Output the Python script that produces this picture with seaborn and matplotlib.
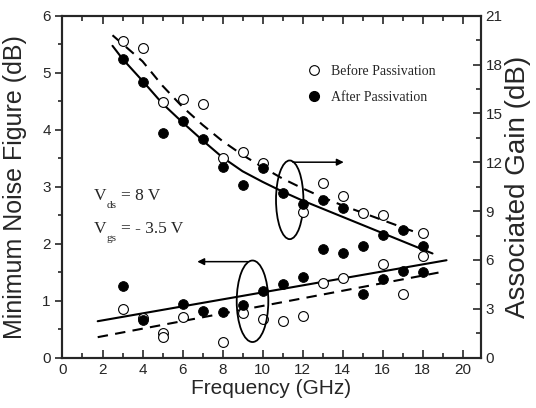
import numpy as np
import pandas as pd
import seaborn as sns
import matplotlib.pyplot as plt
from matplotlib.lines import Line2D
from matplotlib.patches import Ellipse
from matplotlib.ticker import MultipleLocator

# noise figure data (left axis)
freq_nf_before = [3, 4, 5, 5, 6, 8, 9, 10, 11, 12, 13, 14, 16, 17, 18]
nf_before = [0.85, 0.69, 0.43, 0.36, 0.71, 0.27, 0.79, 0.68, 0.65, 0.74,
             1.31, 1.39, 1.64, 1.12, 1.79]
freq_nf_after = [3, 4, 6, 7, 8, 9, 10, 11, 12, 13, 14, 15, 16, 17, 18]
nf_after = [1.25, 0.67, 0.94, 0.82, 0.81, 0.92, 1.17, 1.29, 1.42, 1.90,
            1.83, 1.12, 1.375, 1.52, 1.50]

# associated gain data (right axis)
freq_gain_before = [3, 4, 5, 6, 7, 8, 9, 10, 12, 13, 14, 15, 16, 18]
gain_before = [19.46, 19.03, 15.70, 15.86, 15.60, 12.24, 12.65, 11.97, 8.93,
               10.74, 9.93, 8.90, 8.76, 7.64]
freq_gain_after = [3, 4, 5, 6, 7, 8, 9, 10, 11, 12, 13, 14, 15, 16, 17, 18]
gain_after = [18.34, 16.90, 13.81, 14.53, 13.43, 11.72, 10.62, 11.63, 10.09,
              9.42, 9.68, 9.21, 6.87, 7.53, 7.84, 6.86]

# fitted trend curves
fit_nf_after_f = [1.76, 19.2]
fit_nf_after = [0.64, 1.71]
fit_nf_before_f = [1.76, 18.9]
fit_nf_before = [0.36, 1.50]
fit_gain_after_f = [2.5, 3, 4, 5, 6, 7, 8, 9, 10, 11, 12, 13, 14, 15, 16, 17,
                    18, 18.5]
fit_gain_after = [19.15, 18.35, 17.0, 15.6, 14.45, 13.35, 12.3, 11.45, 10.8,
                  10.2, 9.65, 9.15, 8.65, 8.15, 7.65, 7.15, 6.65, 6.4]
fit_gain_before_f = [2.5, 4, 5, 6, 7, 8, 9, 10, 11, 12, 13, 14, 15, 16, 17, 18]
fit_gain_before = [19.8, 18.2, 16.7, 15.4, 14.3, 13.3, 12.45, 11.7, 11.0,
                   10.4, 9.85, 9.35, 8.9, 8.45, 8.0, 7.55]

labels = ["Before Passivation", "After Passivation"]

sns.set_style("ticks")
plt.rcParams['font.family'] = ['Liberation Sans', 'DejaVu Sans']

fig = plt.figure(figsize=(5.36, 4.08), dpi=100)
ax = fig.add_axes([0.1166, 0.1233, 0.7799, 0.8382])
ax2 = ax.twinx()

serif = ['Liberation Serif', 'DejaVu Serif']
ms = 50

# noise figure
sns.lineplot(ax=ax, x=fit_nf_after_f, y=fit_nf_after, color='black', lw=1.5)
sns.lineplot(ax=ax, x=fit_nf_before_f, y=fit_nf_before, color='black', lw=1.5,
             linestyle=(0, (5, 3.5)))
sns.scatterplot(ax=ax, x=freq_nf_before, y=nf_before, s=ms, facecolor='white',
                edgecolor='black', linewidth=0.8, zorder=3)
sns.scatterplot(ax=ax, x=freq_nf_after, y=nf_after, s=ms, color='black',
                edgecolor='black', zorder=4)

# gain
sns.lineplot(ax=ax2, x=fit_gain_after_f, y=fit_gain_after, color='black', lw=1.5)
sns.lineplot(ax=ax2, x=fit_gain_before_f, y=fit_gain_before, color='black',
             lw=1.5, linestyle=(0, (5, 3.5)))
sns.scatterplot(ax=ax2, x=freq_gain_before, y=gain_before, s=ms,
                facecolor='white', edgecolor='black', linewidth=0.8, zorder=3)
sns.scatterplot(ax=ax2, x=freq_gain_after, y=gain_after, s=ms, color='black',
                edgecolor='black', zorder=4)

ax.set_xlim(0, 20.9)
ax.set_ylim(0, 6)
ax2.set_ylim(0, 21)

ax.xaxis.set_major_locator(MultipleLocator(2))
ax.xaxis.set_minor_locator(MultipleLocator(1))
ax.yaxis.set_major_locator(MultipleLocator(1))
ax.yaxis.set_minor_locator(MultipleLocator(0.5))
ax2.yaxis.set_major_locator(MultipleLocator(3))
ax2.yaxis.set_minor_locator(MultipleLocator(1.5))

ax.tick_params(axis='x', which='both', direction='in', top=True, labelsize=11)
ax.tick_params(axis='x', which='major', length=6, width=1.2)
ax.tick_params(axis='x', which='minor', length=3.5, width=1.2)
ax.tick_params(axis='y', which='both', direction='out', labelsize=11)
ax.tick_params(axis='y', which='major', length=5, width=1.2)
ax.tick_params(axis='y', which='minor', length=3, width=1.2)
ax2.tick_params(axis='y', which='both', direction='in', labelsize=11)
ax2.tick_params(axis='y', which='major', length=6, width=1.2)
ax2.tick_params(axis='y', which='minor', length=3.5, width=1.2)
for a in (ax, ax2):
    for s in a.spines.values():
        s.set_linewidth(1.5)

ax.set_xlabel("Frequency (GHz)", fontsize=15, labelpad=2)
ax.set_ylabel("Minimum Noise Figure (dB)", fontsize=18)
ax.yaxis.set_label_coords(-0.085, 0.5)
ax2.set_ylabel("Associated Gain (dB)", fontsize=20)
ax2.yaxis.set_label_coords(1.058, 0.5)

# ellipses and arrows
ax.add_patch(Ellipse((11.36, 2.77), 1.37, 1.38, fill=False, lw=1.3,
                     color='black', zorder=5))
ax.annotate("", xy=(14.2, 3.43), xytext=(11.38, 3.43),
            arrowprops=dict(arrowstyle='-|>', color='black', lw=1.1,
                            mutation_scale=10))
ax.add_patch(Ellipse((9.5, 0.99), 1.58, 1.43, fill=False, lw=1.3,
                     color='black', zorder=5))
ax.annotate("", xy=(6.6, 1.685), xytext=(9.4, 1.685),
            arrowprops=dict(arrowstyle='-|>', color='black', lw=1.1,
                            mutation_scale=10))

# bias conditions, with hand placed subscripts
for base, sub, rest, yv in [("V", "ds", "= 8 V", 2.76),
                            ("V", "gs", "= - 3.5 V", 2.19)]:
    ax.annotate(base, (1.54, yv), family=serif, fontsize=12.5, va='baseline')
    ax.annotate(sub, (1.54, yv), xytext=(13, -8), textcoords='offset pixels',
                family=serif, fontsize=8, va='baseline')
    ax.annotate(rest, (1.54, yv), xytext=(28, 0), textcoords='offset pixels',
                family=serif, fontsize=12.5, va='baseline')

handles = [Line2D([], [], ls='', marker='o', ms=7, mfc='white', mec='black',
                  mew=0.8),
           Line2D([], [], ls='', marker='o', ms=7, mfc='black', mec='black')]
ax2.legend(handles, labels, frameon=False, loc='center left',
           bbox_to_anchor=(0.552, 0.80), prop={'family': serif, 'size': 10},
           handletextpad=0.6, labelspacing=0.95, handlelength=1.2)

fig.savefig("out.png", dpi=100)
plt.close(fig)
